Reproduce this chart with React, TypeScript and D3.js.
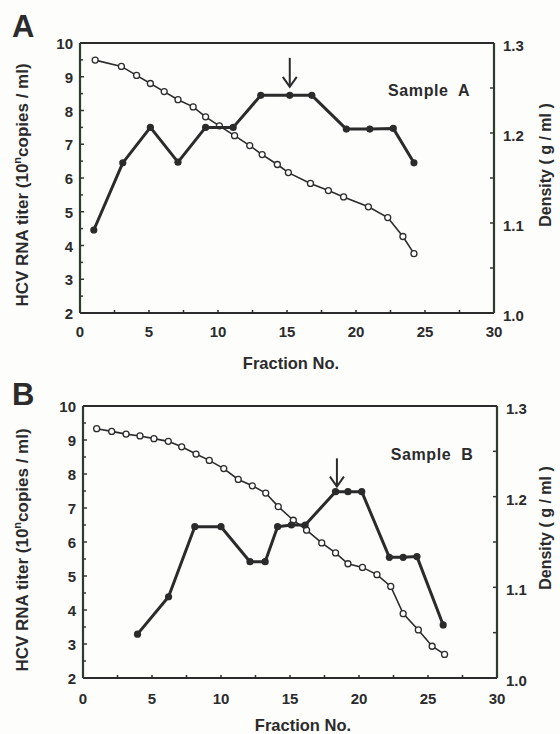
import React from 'react';
import * as d3 from 'd3';

// Panel A – HCV RNA titer (filled) and density (open)
const fractionsA = [1.0, 3.1, 5.1, 7.1, 9.1, 11.1, 13.1, 15.2, 16.8, 19.3, 21.0, 22.7, 24.2];
const titerA = [4.46, 6.45, 7.5, 6.47, 7.5, 7.5, 8.45, 8.45, 8.45, 7.45, 7.45, 7.47, 6.45];
const densityFractionsA = [1.1, 3.0, 4.1, 5.1, 6.1, 7.1, 8.2, 9.1, 10.1, 11.2, 12.3, 13.2, 14.3, 15.1, 16.7, 18.0, 19.1, 20.9, 22.3, 23.4, 24.2];
const densityA = [1.281, 1.274, 1.264, 1.255, 1.246, 1.237, 1.229, 1.218, 1.208, 1.197, 1.186, 1.176, 1.165, 1.156, 1.144, 1.136, 1.129, 1.118, 1.106, 1.085, 1.066];
const peakA = 15.2;

// Panel B
const fractionsB = [3.95, 6.2, 8.1, 10.0, 12.1, 13.2, 14.1, 15.1, 16.1, 18.3, 19.2, 20.2, 22.2, 23.2, 24.2, 26.1];
const titerB = [3.29, 4.39, 6.45, 6.45, 5.42, 5.42, 6.45, 6.5, 6.5, 7.48, 7.48, 7.48, 5.55, 5.55, 5.57, 3.56];
const densityFractionsB = [0.99, 2.08, 3.12, 4.13, 5.14, 6.18, 7.15, 8.19, 9.15, 10.2, 11.25, 12.27, 13.24, 14.15, 15.24, 16.2, 17.3, 18.3, 19.2, 20.25, 21.3, 22.3, 23.2, 24.3, 25.3, 26.2];
const densityB = [1.275, 1.272, 1.269, 1.267, 1.264, 1.261, 1.255, 1.247, 1.24, 1.231, 1.219, 1.212, 1.204, 1.189, 1.174, 1.163, 1.149, 1.138, 1.126, 1.122, 1.114, 1.101, 1.071, 1.053, 1.035, 1.026];
const peakB = 18.4;

const xTickLabels = [0, 5, 10, 15, 20, 25, 30];
const titerTickLabels = [2, 3, 4, 5, 6, 7, 8, 9, 10];
const densityTickLabels = ['1.0', '1.1', '1.2', '1.3'];

const FONT = '"Liberation Sans", Arial, Helvetica, sans-serif';
const INK = '#2b2b2b';
const AXIS_V = '#2f3b2d';

type PanelProps = {
  letter: string;
  sample: string;
  fx: number[];
  titer: number[];
  dx: number[];
  density: number[];
  peak: number;
  arrowFrom: number;
  arrowTo: number;
  left: number;
  right: number;
  top: number;
  bottom: number;
  letterY: number;
  xLabelGap: number;
  xTitleX: number;
  xTitleY: number;
  yTitleY: number;
  dTitleY: number;
};

function Panel(p: PanelProps) {
  const x = d3.scaleLinear().domain([0, 30]).range([p.left, p.right]);
  const y = d3.scaleLinear().domain([2, 10]).range([p.bottom, p.top]);
  const yd = d3.scaleLinear().domain([1.0, 1.3]).range([p.bottom, p.top]);

  const titerPts = p.fx.map((f, i) => [f, p.titer[i]] as [number, number]);
  const densPts = p.dx.map((f, i) => [f, p.density[i]] as [number, number]);

  const titerLine = d3.line<[number, number]>().x((d) => x(d[0])).y((d) => y(d[1]));
  const densLine = d3.line<[number, number]>().x((d) => x(d[0])).y((d) => yd(d[1]));

  const xMinor = d3.range(2.5, 30, 2.5);
  const yMinor = d3.range(2.5, 10, 0.5);
  const dMinor = d3.range(1.05, 1.3, 0.05);

  const ax = x(p.peak);

  return (
    <g>
      <text x={12} y={p.letterY} fontFamily={FONT} fontWeight="bold" fontSize={31} fill={INK}>
        {p.letter}
      </text>

      {/* frame */}
      <line x1={p.left} x2={p.right} y1={p.top} y2={p.top} stroke={INK} strokeWidth={2} />
      <line x1={p.left} x2={p.right} y1={p.bottom} y2={p.bottom} stroke={INK} strokeWidth={2.2} />
      <line x1={p.left} x2={p.left} y1={p.top} y2={p.bottom} stroke={AXIS_V} strokeWidth={2.2} />
      <line x1={p.right} x2={p.right} y1={p.top} y2={p.bottom} stroke={AXIS_V} strokeWidth={2.2} />

      {/* x ticks */}
      {xMinor.map((t) => (
        <line key={'xt' + t} x1={x(t)} x2={x(t)} y1={p.bottom} y2={p.bottom - 3} stroke={INK} strokeWidth={1.5} />
      ))}
      {xTickLabels.map((t) => (
        <text key={'xl' + t} x={x(t)} y={p.bottom + p.xLabelGap} textAnchor="middle"
          fontFamily={FONT} fontWeight="bold" fontSize={15} fill={INK}>
          {t}
        </text>
      ))}

      {/* left axis */}
      {yMinor.map((t) => (
        <line key={'yt' + t} x1={p.left - 1} x2={p.left + (t % 1 === 0 ? 4 : 3)} y1={y(t)} y2={y(t)}
          stroke={AXIS_V} strokeWidth={1.5} />
      ))}
      {titerTickLabels.map((t) => (
        <text key={'yl' + t} x={p.left - 7} y={y(t) + 6} textAnchor="end"
          fontFamily={FONT} fontWeight="bold" fontSize={15} fill={INK}>
          {t}
        </text>
      ))}

      {/* right axis */}
      {dMinor.map((t) => (
        <line key={'dt' + t} x1={p.right + 1} x2={p.right - 4} y1={yd(t)} y2={yd(t)}
          stroke={AXIS_V} strokeWidth={1.5} />
      ))}
      {densityTickLabels.map((t) => (
        <text key={'dl' + t} x={p.right + 9} y={yd(+t) + 8}
          fontFamily={FONT} fontWeight="bold" fontSize={15} fill={INK}>
          {t}
        </text>
      ))}

      {/* axis titles */}
      <text transform={`translate(${28},${p.yTitleY}) rotate(-90)`} textAnchor="middle"
        fontFamily={FONT} fontWeight="bold" fontSize={17} fill={INK}>
        HCV RNA titer (10<tspan fontSize={11} dy={-7}>n</tspan><tspan dy={7}>copies / ml)</tspan>
      </text>
      <text transform={`translate(${551},${p.dTitleY}) rotate(-90)`} textAnchor="middle"
        fontFamily={FONT} fontWeight="bold" fontSize={16} fill={INK} style={{ whiteSpace: 'pre' }}>
        {'Density ( g / ml )'}
      </text>
      <text x={p.xTitleX} y={p.xTitleY} textAnchor="middle"
        fontFamily={FONT} fontWeight="bold" fontSize={16.5} fill={INK}>
        Fraction No.
      </text>

      {/* density curve */}
      <path d={densLine(densPts) || ''} fill="none" stroke={INK} strokeWidth={1.6} />
      {densPts.map((d, i) => (
        <circle key={'dc' + i} cx={x(d[0])} cy={yd(d[1])} r={3} fill="#fff" stroke={INK} strokeWidth={1.3} />
      ))}

      {/* titer curve */}
      <path d={titerLine(titerPts) || ''} fill="none" stroke={INK} strokeWidth={3} strokeLinejoin="round" />
      {titerPts.map((d, i) => (
        <circle key={'tc' + i} cx={x(d[0])} cy={y(d[1])} r={3.6} fill={INK} />
      ))}

      {/* peak arrow */}
      <line x1={ax} x2={ax} y1={y(p.arrowFrom)} y2={y(p.arrowTo)} stroke={INK} strokeWidth={2} />
      <path d={`M${ax - 7},${y(p.arrowTo) - 10} L${ax},${y(p.arrowTo)} L${ax + 7},${y(p.arrowTo) - 10}`}
        fill="none" stroke={INK} strokeWidth={2} />

      <text x={x(25.3)} y={y(8.42)} textAnchor="middle" fontFamily={FONT} fontWeight="bold"
        fontSize={16} letterSpacing={0.6} fill={INK} style={{ whiteSpace: 'pre' }}>
        {p.sample}
      </text>
    </g>
  );
}

export default function App() {
  return (
    <svg width={560} height={734} style={{ position: 'absolute', left: 0, top: 0, background: '#fff' }}>
      <rect width={560} height={734} fill="#fdfdfc" />
      <Panel letter="A" sample={'Sample  A'} fx={fractionsA} titer={titerA} dx={densityFractionsA}
        density={densityA} peak={peakA} arrowFrom={9.56} arrowTo={8.7}
        left={80} right={494} top={43} bottom={313} letterY={37} xLabelGap={24}
        xTitleX={291} xTitleY={369} yTitleY={185} dTitleY={165} />
      <Panel letter="B" sample={'Sample  B'} fx={fractionsB} titer={titerB} dx={densityFractionsB}
        density={densityB} peak={peakB} arrowFrom={8.46} arrowTo={7.63}
        left={83} right={497} top={406} bottom={678} letterY={405} xLabelGap={26}
        xTitleX={303} xTitleY={731} yTitleY={550} dTitleY={528} />
    </svg>
  );
}
